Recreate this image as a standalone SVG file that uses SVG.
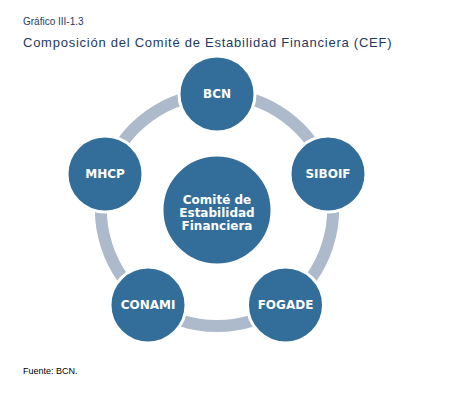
<svg xmlns="http://www.w3.org/2000/svg" width="474" height="412" viewBox="0 0 474 412">
<style>
.ring{fill:none;stroke:#adbacb;stroke-width:12}
.node{fill:#336e9b;stroke:#ffffff;stroke-width:3}
.lbl{font-family:"DejaVu Sans",Verdana,sans-serif;font-weight:bold;font-size:12px;fill:#ffffff;text-anchor:middle}
.ctr{font-family:"DejaVu Sans",Verdana,sans-serif;font-weight:bold;font-size:12px;fill:#ffffff;text-anchor:middle}
.hd{font-family:"Liberation Sans",Arial,sans-serif;fill:#1d3a63}
</style>
<rect width="474" height="412" fill="#ffffff"/>
<text class="hd" x="23" y="25" font-size="10" fill="#2b4670">Gráfico III-1.3</text>
<text class="hd" x="23" y="47" font-size="13" letter-spacing="0.75">Composición del Comité de Estabilidad Financiera (CEF)</text>
<g id="connectors">
<path class="ring" d="M217 94 A116 116 0 0 1 327.32 174.15"/>
<path class="ring" d="M327.32 174.15 A116 116 0 0 1 285.18 303.85"/>
<path class="ring" d="M285.18 303.85 A116 116 0 0 1 148.82 303.85"/>
<path class="ring" d="M148.82 303.85 A116 116 0 0 1 106.68 174.15"/>
<path class="ring" d="M106.68 174.15 A116 116 0 0 1 217 94"/>
</g>
<g id="node-center"><circle class="node" cx="217" cy="210" r="55"/>
<text class="ctr" x="217" y="204">Comité de</text>
<text class="ctr" x="217" y="217">Estabilidad</text>
<text class="ctr" x="217" y="230">Financiera</text></g>
<g id="node-bcn"><circle class="node" cx="217" cy="94" r="38"/><text class="lbl" x="217" y="98">BCN</text></g>
<g id="node-siboif"><circle class="node" cx="328" cy="174" r="38"/><text class="lbl" x="328" y="178">SIBOIF</text></g>
<g id="node-fogade"><circle class="node" cx="285.5" cy="305" r="38"/><text class="lbl" x="285.5" y="309">FOGADE</text></g>
<g id="node-conami"><circle class="node" cx="148" cy="305" r="38"/><text class="lbl" x="148" y="309">CONAMI</text></g>
<g id="node-mhcp"><circle class="node" cx="105" cy="174" r="38"/><text class="lbl" x="105" y="178">MHCP</text></g>
<text x="23" y="374" font-family="Liberation Sans,Arial,sans-serif" font-size="9" fill="#000000">Fuente: BCN.</text>
</svg>
